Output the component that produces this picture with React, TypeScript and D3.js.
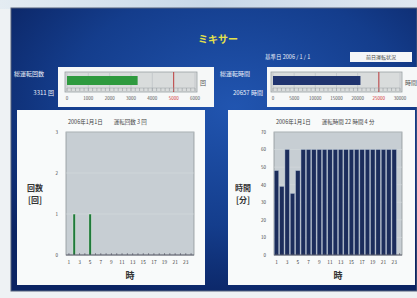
import React from "react";
import * as d3 from "d3";

const hours = d3.range(1, 25);
const countValues = [0, 1, 0, 0, 1, 0, 0, 0, 0, 0, 0, 0, 0, 0, 0, 0, 0, 0, 0, 0, 0, 0, 0, 0];
const timeValues = [48, 39, 60, 35, 48, 60, 60, 60, 60, 60, 60, 60, 60, 60, 60, 60, 60, 60, 60, 60, 60, 60, 60, 0];
const hourTickLabels = [1, 3, 5, 7, 9, 11, 13, 15, 17, 19, 21, 23];
const countTicks = [0, 1, 2, 3];
const timeTicks = [0, 10, 20, 30, 40, 50, 60, 70];
const gaugeCountTicks = [0, 1000, 2000, 3000, 4000, 5000, 6000];
const gaugeTimeTicks = [0, 5000, 10000, 15000, 20000, 25000, 30000];
const totalCount = 3311;
const totalHours = 20657;
const countLimit = 5000;
const hoursLimit = 25000;

const JP = '"Noto Sans CJK JP", "Noto Sans", sans-serif';

function Gauge({ x, y, w, h, max, ticks, value, limit, color }: any) {
  const s = d3.scaleLinear().domain([0, max]).range([x + 2, x + w - 2]);
  const minor = d3.range(0, max + 1, max / 30);
  return (
    <g>
      <rect x={x} y={y} width={w} height={h} fill="#d9dcdc" stroke="#9aa0a4" strokeWidth={0.8} />
      {ticks.map((t: number) => (
        <line key={"g" + t} x1={s(t)} x2={s(t)} y1={y + 1} y2={y + h - 1} stroke="#b9bec2" strokeWidth={0.6} />
      ))}
      <rect x={s(0)} y={y + 4} width={s(value) - s(0)} height={h - 11} fill={color} />
      <line x1={s(limit)} x2={s(limit)} y1={y} y2={y + h} stroke="#c03030" strokeWidth={0.9} />
      <line x1={x + 2} x2={x + w - 2} y1={y + h - 4} y2={y + h - 4} stroke="#9aa0a4" strokeWidth={0.5} />
      {minor.map((t: number, i: number) => (
        <line key={"m" + i} x1={s(t)} x2={s(t)} y1={y + h - 4} y2={y + h - 1} stroke="#8a9094" strokeWidth={0.5} />
      ))}
      {ticks.map((t: number) => (
        <text key={"l" + t} x={s(t)} y={y + h + 8} fontSize={4.5} textAnchor="middle" fill={t === limit ? "#d03030" : "#555"} fontFamily={JP}>
          {t}
        </text>
      ))}
    </g>
  );
}

function BarChart({ px, py, pw, ph, values, yTicks, yMax, title, yLab1, yLab2, thin, color }: any) {
  const x = d3.scaleBand<number>().domain(hours).range([px, px + pw]).paddingInner(thin ? 0 : 0.18).paddingOuter(0.05);
  const y = d3.scaleLinear().domain([0, yMax]).range([py + ph, py]);
  return (
    <g>
      <text x={px + 2} y={py - 8} fontSize={5.5} fill="#444" fontFamily={JP}>{title}</text>
      <rect x={px} y={py} width={pw} height={ph} fill="#c7ced3" stroke="#8e969a" strokeWidth={0.8} />
      {yTicks.map((t: number) => (
        <g key={t}>
          <line x1={px} x2={px + pw} y1={y(t)} y2={y(t)} stroke="#d6dcdf" strokeWidth={0.5} />
          <text x={px - 8} y={y(t) + 1.8} fontSize={4.5} textAnchor="end" fill="#444" fontFamily={JP}>{t}</text>
        </g>
      ))}
      {values.map((v: number, i: number) =>
        v > 0 ? (
          thin ? (
            <rect key={i} x={(x(hours[i]) as number) + x.bandwidth() / 2 - 1.3} y={y(v)} width={2.6} height={y(0) - y(v)} fill={color} stroke="#eef3ee" strokeWidth={0.5} />
          ) : (
            <rect key={i} x={x(hours[i])} y={y(v)} width={x.bandwidth()} height={y(0) - y(v)} fill={color} stroke="#aab8cc" strokeWidth={0.4} />
          )
        ) : null
      )}
      <line x1={px} x2={px + pw} y1={py + ph} y2={py + ph} stroke="#445" strokeWidth={0.8} />
      {hours.map((hh) => (
        <line key={"t" + hh} x1={(x(hh) as number) + x.bandwidth() / 2} x2={(x(hh) as number) + x.bandwidth() / 2} y1={py + ph} y2={py + ph - 2} stroke="#445" strokeWidth={0.5} />
      ))}
      {hourTickLabels.map((hh) => (
        <text key={"x" + hh} x={(x(hh) as number) + x.bandwidth() / 2} y={py + ph + 9} fontSize={4.8} textAnchor="middle" fill="#444" fontFamily={JP}>{hh}</text>
      ))}
      <text x={px + pw / 2} y={py + ph + 24} fontSize={9} fontWeight="bold" textAnchor="middle" fill="#333" fontFamily={JP}>時</text>
      <text x={px - 31} y={py + ph / 2 - 3} fontSize={8} fontWeight="bold" textAnchor="middle" fill="#333" fontFamily={JP}>{yLab1}</text>
      <text x={px - 31} y={py + ph / 2 + 9} fontSize={8} fontWeight="bold" textAnchor="middle" fill="#333" fontFamily={JP}>{yLab2}</text>
    </g>
  );
}

export default function App() {
  return (
    <svg width={417} height={298} style={{ position: "absolute", left: 0, top: 0 }}>
      <defs>
        <radialGradient id="bg" cx="0.55" cy="0.35" r="0.7">
          <stop offset="0" stopColor="#2155b0" />
          <stop offset="0.6" stopColor="#143d8c" />
          <stop offset="1" stopColor="#0b2463" />
        </radialGradient>
        <linearGradient id="top" x1="0" x2="1" y1="0" y2="0">
          <stop offset="0" stopColor="#e4ecf2" />
          <stop offset="0.5" stopColor="#c8d8e8" />
          <stop offset="1" stopColor="#e0e8f0" />
        </linearGradient>
      </defs>
      <rect x={0} y={0} width={417} height={298} fill="#eef2f4" />
      <rect x={0} y={0} width={417} height={9} fill="url(#top)" />
      <rect x={11} y={8} width={406} height={283} fill="url(#bg)" />
      <rect x={11} y={8} width={406} height={283} fill="none" stroke="#55607a" strokeWidth={1} />

      <text x={218} y={43} fontSize={10} fontWeight="bold" textAnchor="middle" fill="#e6e24a" fontFamily={JP}>ミキサー</text>
      <text x={265} y={59} fontSize={5.5} fill="#e8eef8" fontFamily={JP}>基準日 2006 / 1 / 1</text>
      <rect x={350} y={52} width={62} height={10} fill="#f4f6f8" />
      <text x={381} y={59} fontSize={5} textAnchor="middle" fill="#444" fontFamily={JP}>前日運転状況</text>

      <text x={14} y={76} fontSize={6} fill="#eef2fa" fontFamily={JP}>総運転回数</text>
      <text x={54} y={95} fontSize={6} textAnchor="end" fill="#eef2fa" fontFamily={JP}>{totalCount} 回</text>
      <rect x={58} y={67} width={156} height={40} fill="#f6f8f8" />
      <Gauge x={65} y={72} w={132} h={20} max={6000} ticks={gaugeCountTicks} value={totalCount} limit={countLimit} color="#2e9a3e" />
      <text x={200} y={85} fontSize={6} fill="#555" fontFamily={JP}>回</text>

      <text x={220} y={76} fontSize={6} fill="#eef2fa" fontFamily={JP}>総運転時間</text>
      <text x={263} y={95} fontSize={6} textAnchor="end" fill="#eef2fa" fontFamily={JP}>{totalHours} 時間</text>
      <rect x={267} y={67} width={150} height={40} fill="#f6f8f8" />
      <Gauge x={271} y={72} w={131} h={20} max={30000} ticks={gaugeTimeTicks} value={totalHours} limit={hoursLimit} color="#1f336e" />
      <text x={405} y={85} fontSize={6} fill="#555" fontFamily={JP}>時間</text>

      <rect x={17} y={110} width={188} height={175} fill="#f8fafa" />
      <rect x={228} y={110} width={187} height={175} fill="#f8fafa" />

      <BarChart px={66} py={132} pw={128} ph={123} values={countValues} yTicks={countTicks} yMax={3}
        title="2006年1月1日　　運転回数 3 回" yLab1="回数" yLab2="[回]" thin={true} color="#1f7a3a" />
      <BarChart px={274} py={132} pw={128} ph={123} values={timeValues} yTicks={timeTicks} yMax={70}
        title="2006年1月1日　　運転時間 22 時間 4 分" yLab1="時間" yLab2="[分]" thin={false} color="#1c2d5c" />
    </svg>
  );
}
